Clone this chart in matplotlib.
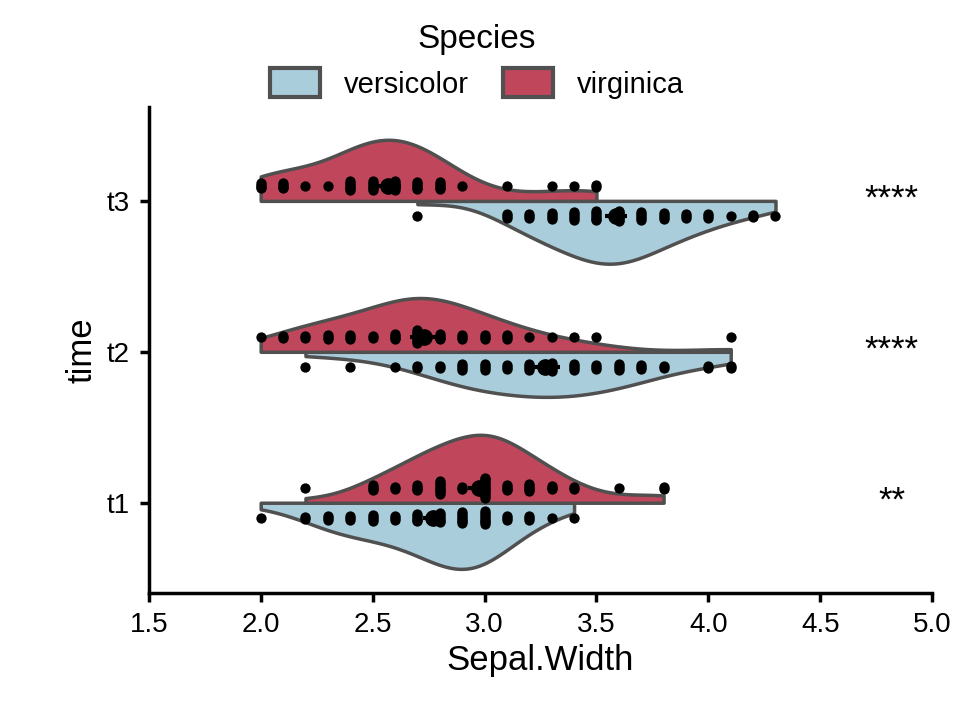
import numpy as np
import matplotlib
matplotlib.use('Agg')
import matplotlib.pyplot as plt
from matplotlib.patches import Patch

plt.rcParams['font.family'] = ['Liberation Sans', 'DejaVu Sans']

# ---------------- data ----------------
times = ['t1', 't2', 't3']
species = ['versicolor', 'virginica']

t1_versicolor = [3.2, 3.2, 3.1, 2.3, 2.8, 2.8, 3.3, 2.4, 2.9, 2.7, 2.0, 3.0, 2.2, 2.9, 2.9,
                 3.1, 3.0, 2.7, 2.2, 2.5, 3.2, 2.8, 2.5, 2.8, 2.9, 3.0, 2.8, 3.0, 2.9, 2.6,
                 2.4, 2.4, 2.7, 2.7, 3.0, 3.4, 3.1, 2.3, 3.0, 2.5, 2.6, 3.0, 2.6, 2.3, 2.7,
                 3.0, 2.9, 2.9, 2.5, 2.8]
t1_virginica = [3.3, 2.7, 3.0, 2.9, 3.0, 3.0, 2.5, 2.9, 2.5, 3.6, 3.2, 2.7, 3.0, 2.5, 2.8,
                3.2, 3.0, 3.8, 2.6, 2.2, 3.2, 2.8, 2.8, 2.7, 3.3, 3.2, 2.8, 3.0, 2.8, 3.0,
                2.8, 3.8, 2.8, 2.8, 2.6, 3.0, 3.4, 3.1, 3.0, 3.1, 3.1, 3.1, 2.7, 3.2, 3.3,
                3.0, 2.5, 3.0, 3.4, 3.0]
t2_versicolor = [2.2, 2.4, 2.6, 2.7, 2.7, 2.8, 2.8, 2.9, 2.9, 2.9, 2.9, 3.0, 3.0, 3.0, 3.0,
                 3.1, 3.1, 3.1, 3.2, 3.2, 3.2, 3.2, 3.3, 3.3, 3.3, 3.3, 3.3, 3.4, 3.4, 3.4,
                 3.4, 3.5, 3.5, 3.5, 3.6, 3.6, 3.6, 3.6, 3.7, 3.7, 3.7, 3.8, 3.8, 4.0, 4.0,
                 4.1, 4.1]
t2_virginica = [2.0, 2.1, 2.1, 2.2, 2.2, 2.3, 2.3, 2.3, 2.4, 2.4, 2.4, 2.5, 2.5, 2.6, 2.6,
                2.6, 2.6, 2.7, 2.7, 2.7, 2.7, 2.7, 2.7, 2.7, 2.7, 2.8, 2.8, 2.8, 2.8, 2.9,
                2.9, 2.9, 3.0, 3.0, 3.0, 3.1, 3.1, 3.1, 3.2, 3.3, 3.4, 3.5, 4.1]
t3_versicolor = [2.7, 3.1, 3.1, 3.1, 3.2, 3.2, 3.2, 3.3, 3.3, 3.3, 3.3, 3.4, 3.4, 3.4, 3.4,
                 3.4, 3.5, 3.5, 3.5, 3.5, 3.5, 3.5, 3.6, 3.6, 3.6, 3.6, 3.6, 3.6, 3.6, 3.7,
                 3.7, 3.7, 3.7, 3.7, 3.8, 3.8, 3.8, 3.8, 3.9, 3.9, 3.9, 4.0, 4.0, 4.0, 4.1,
                 4.2, 4.2, 4.3]
t3_virginica = [2.0, 2.0, 2.0, 2.0, 2.1, 2.1, 2.1, 2.1, 2.2, 2.3, 2.4, 2.4, 2.4, 2.4, 2.4,
                2.4, 2.5, 2.5, 2.5, 2.5, 2.5, 2.5, 2.6, 2.6, 2.6, 2.6, 2.6, 2.6, 2.7, 2.7,
                2.7, 2.7, 2.7, 2.8, 2.8, 2.8, 2.8, 2.8, 2.9, 3.1, 3.3, 3.4, 3.5, 3.5]

xtick_values = [1.5, 2.0, 2.5, 3.0, 3.5, 4.0, 4.5, 5.0]
xtick_labels = ['1.5', '2.0', '2.5', '3.0', '3.5', '4.0', '4.5', '5.0']
signif = ['**', '****', '****']

data = {
    ('t1', 'versicolor'): t1_versicolor, ('t1', 'virginica'): t1_virginica,
    ('t2', 'versicolor'): t2_versicolor, ('t2', 'virginica'): t2_virginica,
    ('t3', 'versicolor'): t3_versicolor, ('t3', 'virginica'): t3_virginica,
}

# ---------------- style ----------------
fill_colors = {'versicolor': '#AACDDC', 'virginica': '#C0475B'}
edge_color = '#505050'
side = {'versicolor': -1, 'virginica': 1}
half_width = 0.45
pt_offset = 0.10
tick_fs = 20


def kde(vals, grid):
    v = np.asarray(vals, float)
    bw = v.std(ddof=1) * len(v) ** (-1 / 5)
    z = (grid[:, None] - v[None, :]) / bw
    return np.exp(-0.5 * z ** 2).sum(1) / (len(v) * bw * np.sqrt(2 * np.pi))


fig = plt.figure(figsize=(9.6, 7.2), dpi=100)
ax = fig.add_axes([0.155, 0.176, 0.816, 0.675])

dens = {}
for key, vals in data.items():
    g = np.linspace(min(vals), max(vals), 300)
    dens[key] = (g, kde(vals, g))
gmax = max(d.max() for _, d in dens.values())

for i, t in enumerate(times):
    pos = i + 1
    for sp in species:
        g, d = dens[(t, sp)]
        w = d / gmax * half_width
        s = side[sp]
        ax.fill_between(g, pos, pos + s * w, facecolor=fill_colors[sp],
                        edgecolor=edge_color, linewidth=2.5, zorder=2)
    for sp in species:
        vals = np.asarray(data[(t, sp)])
        s = side[sp]
        ys = np.empty(len(vals))
        for u in np.unique(vals):
            idx = np.where(vals == u)[0]
            c = len(idx)
            ys[idx] = np.linspace(-0.012 * (c - 1) / 2, 0.012 * (c - 1) / 2, c)
        ax.scatter(vals, pos + s * pt_offset + ys, s=55, color='black',
                   linewidths=0, zorder=4)
        m = vals.mean()
        se = vals.std(ddof=1) / np.sqrt(len(vals))
        ax.errorbar([m], [pos + s * pt_offset], xerr=[se], fmt='o', color='black',
                    markersize=11, elinewidth=3.0, capsize=0, zorder=5)
    ax.text(4.82, pos - 0.05, signif[i], ha='center', va='baseline', fontsize=25)

ax.set_xlim(1.5, 5.0)
ax.set_ylim(0.4, 3.62)
ax.set_xticks(xtick_values)
ax.set_xticklabels(xtick_labels, fontsize=tick_fs)
ax.set_yticks([1, 2, 3])
ax.set_yticklabels(times, fontsize=tick_fs)
for sp_name in ['top', 'right']:
    ax.spines[sp_name].set_visible(False)
for sp_name in ['left', 'bottom']:
    ax.spines[sp_name].set_linewidth(2.5)
ax.tick_params(width=2.5, length=6.5, labelsize=tick_fs, colors='black', pad=7)
ax.set_xlabel('Sepal.Width', fontsize=25, labelpad=4)
ax.set_ylabel('time', fontsize=25, labelpad=6)

# legend: title as text, entries centred below it
fig.text(477 / 960, 1 - 48 / 720, 'Species', ha='center', va='baseline', fontsize=24)
handles = [Patch(facecolor=fill_colors[sp], edgecolor=edge_color, linewidth=3.0, label=sp)
           for sp in species]
leg = fig.legend(handles=handles, loc='center', bbox_to_anchor=(477 / 960, 1 - 83.5 / 720),
                 ncol=2, fontsize=21, frameon=False, borderpad=0, borderaxespad=0,
                 handlelength=1.72, handleheight=1.14, columnspacing=1.15, handletextpad=0.83)

fig.savefig('out.png', dpi=100)
